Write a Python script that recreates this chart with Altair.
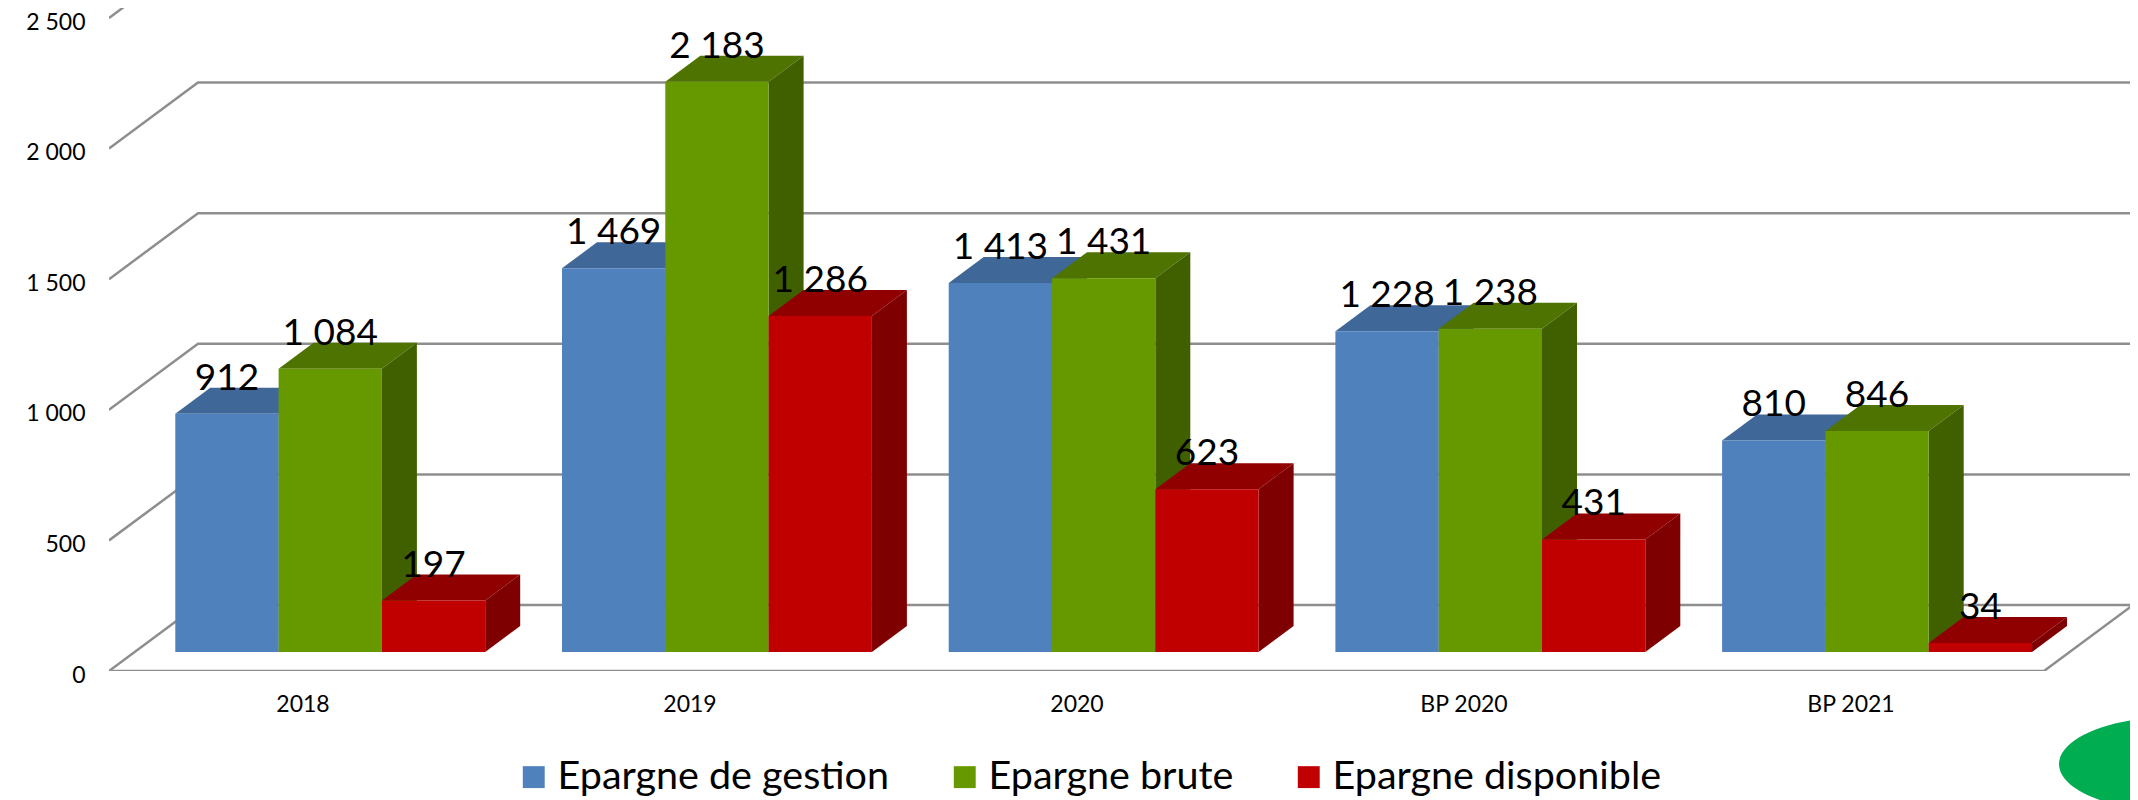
import altair as alt
import pandas as pd

categories = ["2018", "2019", "2020", "BP 2020", "BP 2021"]
series = ["Epargne de gestion", "Epargne brute", "Epargne disponible"]
gestion = [912, 1469, 1413, 1228, 810]
brute = [1084, 2183, 1431, 1238, 846]
disponible = [197, 1286, 623, 431, 34]
y_ticks = [0, 500, 1000, 1500, 2000, 2500]

front_colors = ["#4F81BD", "#669900", "#C00000"]
top_colors = ["#3F6797", "#4F7300", "#900000"]
side_colors = ["#33527A", "#406000", "#7F0000"]

PX_X = 387.0      # pixels per category
PX_Y = 0.2612     # pixels per value unit
WALL_DX, WALL_DY = 89 / PX_X, 66 / PX_Y
BAR_DX, BAR_DY = 35 / PX_X, 26 / PX_Y
BASE_V = 19 / PX_Y
BAR_START = 66.3 / PX_X
BAR_STEP = 386.7 / PX_X
BAR_W = 103.3 / PX_X
XMAX = 2021 / PX_X
YMAX = 663 / PX_Y

xs = alt.Scale(domain=[0, XMAX], nice=False, zero=False)
ys = alt.Scale(domain=[0, YMAX], nice=False, zero=False)
color_scale = alt.Scale(domain=series, range=front_colors)

label_js = "[" + ",".join("'%s'" % c for c in categories) + "][floor(datum.value)]"
x_axis = alt.Axis(
    values=[i + 0.5 for i in range(len(categories))], labelExpr=label_js, title=None,
    domain=False, ticks=False, grid=False, labelFont="Lato", labelFontSize=23,
    labelColor="#000", labelPadding=22, labelAngle=0,
)
y_axis = alt.Axis(
    values=y_ticks, labelExpr="replace(format(datum.value, ','), ',', ' ')", title=None,
    domain=False, ticks=False, grid=False, labelFont="Lato", labelFontSize=23,
    labelColor="#000", labelPadding=24, labelOffset=4,
)


def X():
    return alt.X("x:Q", scale=xs, axis=x_axis)


def Y():
    return alt.Y("y:Q", scale=ys, axis=y_axis)


# wall / floor lines
grid_rows = []
for v in y_ticks:
    grid_rows += [
        {"g": v, "x": 0, "y": v},
        {"g": v, "x": WALL_DX, "y": v + WALL_DY},
        {"g": v, "x": len(categories) + WALL_DX, "y": v + WALL_DY},
    ]
grid_rows += [
    {"g": -1, "x": 0, "y": 0},
    {"g": -1, "x": len(categories), "y": 0},
    {"g": -1, "x": len(categories) + WALL_DX, "y": WALL_DY},
]
grid = alt.Chart(pd.DataFrame(grid_rows)).mark_line(
    color="#8E8E8E", strokeWidth=2.5, clip=True
).encode(x=X(), y=Y(), detail="g:N")

layers = [grid]
label_rows = []
values = [gestion, brute, disponible]
for s, name in enumerate(series):
    top_rows, side_rows, front_rows = [], [], []
    for i, val in enumerate(values[s]):
        left = i * BAR_STEP + BAR_START + s * BAR_W
        right = left + BAR_W
        v = BASE_V + val
        top_rows += [
            {"c": i, "x": left, "y": v, "y2": v},
            {"c": i, "x": left + BAR_DX, "y": v + BAR_DY, "y2": v},
            {"c": i, "x": right, "y": v + BAR_DY, "y2": v},
            {"c": i, "x": right + BAR_DX, "y": v + BAR_DY, "y2": v + BAR_DY},
        ]
        side_rows += [
            {"c": i, "x": right, "y": v, "y2": BASE_V},
            {"c": i, "x": right + BAR_DX, "y": v + BAR_DY, "y2": BASE_V + BAR_DY},
        ]
        front_rows.append({"s": name, "x": left, "x2": right, "y": v, "y2": BASE_V})
        label_rows.append({"x": (left + right) / 2, "y": v,
                           "t": f"{val:,}".replace(",", " ")})
    layers.append(alt.Chart(pd.DataFrame(top_rows)).mark_area(color=top_colors[s]).encode(
        x=X(), y=Y(), y2="y2:Q", detail="c:N"))
    layers.append(alt.Chart(pd.DataFrame(side_rows)).mark_area(color=side_colors[s]).encode(
        x=X(), y=Y(), y2="y2:Q", detail="c:N"))
    layers.append(alt.Chart(pd.DataFrame(front_rows)).mark_rect().encode(
        x=X(), x2="x2:Q", y=Y(), y2="y2:Q",
        color=alt.Color("s:N", scale=color_scale, legend=alt.Legend(
            title=None, orient="none", legendX=405, legendY=749, direction="horizontal",
            columns=3, symbolType="square", symbolSize=480, symbolStrokeWidth=0,
            labelFont="Lato", labelFontSize=39.5, labelColor="#000", labelLimit=600,
            labelOffset=4, columnPadding=55, symbolOpacity=1,
        )),
    ))

labels = alt.Chart(pd.DataFrame(label_rows)).mark_text(
    font="Lato", fontSize=37, color="#000", dy=-35, baseline="middle", align="center"
).encode(x=X(), y=Y(), text="t:N")
layers.append(labels)

# green ellipse in the bottom-right corner
ellipse = alt.Chart(pd.DataFrame({"x": [2065 / PX_X], "y": [-93 / PX_Y]})).mark_point(
    shape="M-1,0A1,0.41,0,1,1,1,0A1,0.41,0,1,1,-1,0Z",
    size=52900, filled=True, color="#00AD50", opacity=1, clip=False,
).encode(x=X(), y=Y())
layers.append(ellipse)

chart = alt.layer(*layers).resolve_scale(color="shared").properties(
    width=2021, height=663, background="white", autosize="none",
    padding={"left": 101, "top": 0, "right": 0, "bottom": 129},
).configure_view(stroke=None)

chart.save("out.html", embed_options={"renderer": "svg", "actions": False})
